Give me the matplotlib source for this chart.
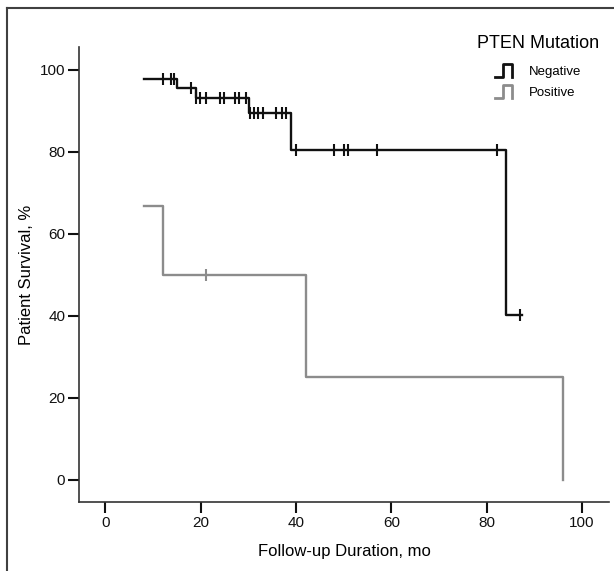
import numpy as np
import matplotlib
matplotlib.use('Agg')
import matplotlib.pyplot as plt
from matplotlib.lines import Line2D
from matplotlib.legend_handler import HandlerBase

plt.rcParams['font.family'] = ['Liberation Sans', 'DejaVu Sans']

# Kaplan-Meier steps (time in months, survival in %)
neg_times = [8.0, 15.0, 19.0, 30.1, 39.0, 84.0, 87.5]
neg_surv = [97.8, 95.4, 93.1, 89.4, 80.3, 40.2, 40.2]
neg_censor = [12.0, 13.7, 14.3, 17.9, 19.0, 19.8, 21.1, 24.0, 24.8, 27.2, 28.0,
              29.6, 30.4, 31.2, 32.0, 33.1, 35.9, 37.0, 38.0, 40.0, 48.0, 50.0,
              50.9, 57.0, 82.1, 87.1]

pos_times = [8.0, 12.0, 42.0, 96.0]
pos_surv = [66.7, 50.0, 25.0, 0.0]
pos_censor = [21.1]

groups = ['Negative', 'Positive']
colors = ['#111111', '#8c8c8c']


def surv_at(times, surv, t):
    i = np.searchsorted(times, t, side='right') - 1
    return np.array(surv)[np.clip(i, 0, len(surv) - 1)]


class StepHandler(HandlerBase):
    def create_artists(self, legend, orig_handle, xdescent, ydescent,
                       width, height, fontsize, trans):
        w = width * 0.8
        x0 = width - w - xdescent
        y0 = -ydescent - height * 0.1
        xs = [x0, x0 + w * 0.45, x0 + w * 0.45, x0 + w, x0 + w]
        ys = [y0, y0, y0 + height * 1.2, y0 + height * 1.2, y0]
        ln = Line2D(xs, ys, color=orig_handle.get_color(),
                    lw=2.0, transform=trans)
        return [ln]


fig = plt.figure(figsize=(6.14, 5.71), dpi=100)
ax = fig.add_axes([0.129, 0.1208, 0.863, 0.797])

data = [(neg_times, neg_surv, neg_censor), (pos_times, pos_surv, pos_censor)]
handles = []
for (t, s, c), col, name in zip(data, colors, groups):
    h, = ax.plot(t, s, drawstyle='steps-post', color=col, lw=1.7, label=name)
    ax.plot(c, surv_at(t, s, c), ls='none', marker='|', ms=8, mew=1.5, color=col)
    handles.append(h)

ax.set_xlim(-5.5, 105.7)
ax.set_ylim(-5.4, 105.5)
ax.set_xticks([0, 20, 40, 60, 80, 100])
ax.set_yticks([0, 20, 40, 60, 80, 100])
ax.spines['top'].set_visible(False)
ax.spines['right'].set_visible(False)
for sp in ['left', 'bottom']:
    ax.spines[sp].set_linewidth(1.2)
    ax.spines[sp].set_color('#333333')
ax.tick_params(length=8, width=1.5, labelsize=11, pad=2, colors='#111111')
ax.set_xlabel('Follow-up Duration, mo', fontsize=12, labelpad=10)
ax.set_ylabel('Patient Survival, %', fontsize=12, labelpad=4)

fig.text(538 / 614, 1 - 43 / 571, 'PTEN Mutation', ha='center', va='center',
         fontsize=13)
leg = fig.legend(handles, groups, handler_map={Line2D: StepHandler()},
                 loc='upper right', bbox_to_anchor=(0.958, 0.898),
                 frameon=False, fontsize=9.5, handlelength=1.6,
                 handleheight=0.9, handletextpad=1.3, labelspacing=0.6,
                 borderpad=0)

# frame lines at the top and left edge of the picture
fig.add_artist(Line2D([0.0114, 1.0], [0.986, 0.986], color='#404040', lw=1.5,
                      transform=fig.transFigure))
fig.add_artist(Line2D([0.0114, 0.0114], [0.0, 0.986], color='#404040', lw=1.5,
                      transform=fig.transFigure))

fig.savefig('out.png', dpi=100)
